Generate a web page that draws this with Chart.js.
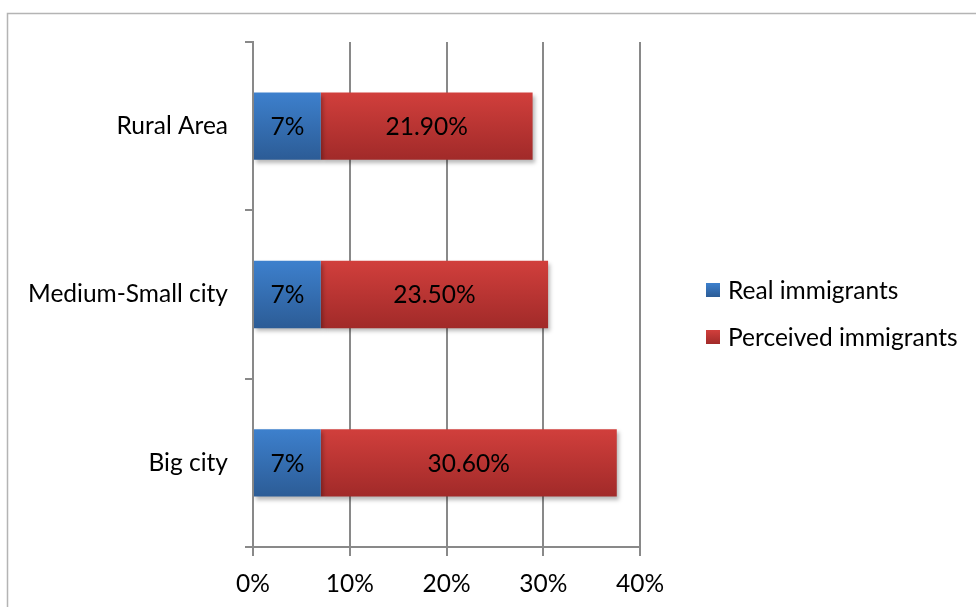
<!DOCTYPE html>
<html>
<head>
<meta charset="utf-8">
<script src="https://cdn.jsdelivr.net/npm/chart.js@4"></script>
<style>
  html, body { margin: 0; padding: 0; background: #fff; }
  #wrap { width: 976px; height: 607px; }
</style>
</head>
<body>
<div id="wrap"><canvas id="immigrants-chart"></canvas></div>
<script>
// ============ DATA ===========================//

const areas = ["Rural Area", "Medium-Small city", "Big city"];
const realValues = [7, 7, 7];
const perceivedValues = [21.9, 23.5, 30.6];
const seriesNames = ["Real immigrants", "Perceived immigrants"];
const axisTicks = [0, 10, 20, 30, 40];

const FONT = "Lato, 'Open Sans', sans-serif";
const FONT_SIZE = 24.5;
const BLUE = ["#3d80cd", "#2c5c96"];
const RED = ["#d13f3c", "#a12a29"];

// vertical gradient that follows each bar's own height
const barGradient = (colors) => (ctx) => {
  const chart = ctx.chart;
  const y = chart.scales.y;
  if (!chart.chartArea || !y || ctx.dataIndex === undefined) return colors[0];
  const band = y.height / areas.length;
  const c = y.getPixelForValue(ctx.dataIndex);
  const half = band * 0.2;
  const g = chart.ctx.createLinearGradient(0, c - half, 0, c + half);
  g.addColorStop(0, colors[0]);
  g.addColorStop(1, colors[1]);
  return g;
};

// ============ PLUGINS ===========================//

// light frame around the whole chart
const framePlugin = {
  id: "frame",
  beforeDraw(chart) {
    const ctx = chart.ctx;
    ctx.save();
    ctx.strokeStyle = "#b4b4b4";
    ctx.lineWidth = 1.5;
    ctx.strokeRect(7.5, 13.5, 1200, 1200);
    ctx.restore();
  }
};

// soft drop shadow under the bars
const shadowPlugin = {
  id: "barShadow",
  beforeDatasetDraw(chart) {
    const ctx = chart.ctx;
    ctx.save();
    ctx.shadowColor = "rgba(0,0,0,0.28)";
    ctx.shadowBlur = 4;
    ctx.shadowOffsetX = 2;
    ctx.shadowOffsetY = 3;
  },
  afterDatasetDraw(chart) {
    chart.ctx.restore();
  }
};

// value text centred in every segment
const valueLabels = {
  id: "valueLabels",
  afterDatasetsDraw(chart) {
    const ctx = chart.ctx;
    ctx.save();
    ctx.font = FONT_SIZE + "px " + FONT;
    ctx.fillStyle = "#000";
    ctx.textAlign = "center";
    ctx.textBaseline = "middle";
    chart.data.datasets.forEach((ds, i) => {
      chart.getDatasetMeta(i).data.forEach((bar, j) => {
        const v = ds.data[j];
        const txt = i === 0 ? v + "%" : v.toFixed(2) + "%";
        ctx.fillText(txt, (bar.x + bar.base) / 2, bar.y + 1);
      });
    });
    ctx.restore();
  }
};

// legend on the right
const sideLegend = {
  id: "sideLegend",
  afterDraw(chart) {
    const ctx = chart.ctx;
    const fills = [BLUE, RED];
    ctx.save();
    ctx.font = FONT_SIZE + "px " + FONT;
    ctx.textBaseline = "middle";
    chart.data.datasets.forEach((ds, i) => {
      const cy = 290 + i * 47;
      const g = ctx.createLinearGradient(0, cy - 7, 0, cy + 7);
      g.addColorStop(0, fills[i][0]);
      g.addColorStop(1, fills[i][1]);
      ctx.fillStyle = g;
      ctx.fillRect(706, cy - 7, 14, 14);
      ctx.fillStyle = "#000";
      ctx.fillText(ds.label, 728, cy + 1);
    });
    ctx.restore();
  }
};

// ============ CHART ===========================//

const canvas = document.getElementById("immigrants-chart");

new Chart(canvas, {
  type: "bar",
  data: {
    labels: areas,
    datasets: [
      {
        label: seriesNames[0],
        data: realValues,
        backgroundColor: barGradient(BLUE),
        categoryPercentage: 0.8,
        barPercentage: 0.5,
        borderWidth: 0
      },
      {
        label: seriesNames[1],
        data: perceivedValues,
        backgroundColor: barGradient(RED),
        categoryPercentage: 0.8,
        barPercentage: 0.5,
        borderWidth: 0
      }
    ]
  },
  options: {
    indexAxis: "y",
    responsive: true,
    maintainAspectRatio: false,
    animation: false,
    layout: { padding: { left: 0, right: 336, top: 42, bottom: 0 } },
    plugins: {
      legend: { display: false },
      tooltip: { enabled: false }
    },
    scales: {
      x: {
        stacked: true,
        min: 0,
        max: 40,
        afterBuildTicks: (s) => { s.ticks = axisTicks.map((v) => ({ value: v })); },
        afterFit: (s) => { s.height = 60; },
        border: { display: true, color: "#898989", width: 2 },
        grid: {
          color: "#898989",
          lineWidth: 2,
          drawTicks: true,
          tickLength: 9,
          tickColor: "#898989"
        },
        ticks: {
          padding: 13,
          color: "#000",
          font: { family: FONT, size: FONT_SIZE }
          ,
          callback: (v) => v + "%"
        }
      },
      y: {
        stacked: true,
        afterFit: (s) => { s.width = 253; },
        border: { display: true, color: "#898989", width: 2 },
        grid: {
          offset: true,
          drawOnChartArea: false,
          drawTicks: true,
          tickLength: 8,
          color: "#898989",
          lineWidth: 2
        },
        ticks: {
          padding: 17,
          color: "#000",
          font: { family: FONT, size: FONT_SIZE }
        }
      }
    }
  },
  plugins: [framePlugin, shadowPlugin, valueLabels, sideLegend]
});
</script>
</body>
</html>
